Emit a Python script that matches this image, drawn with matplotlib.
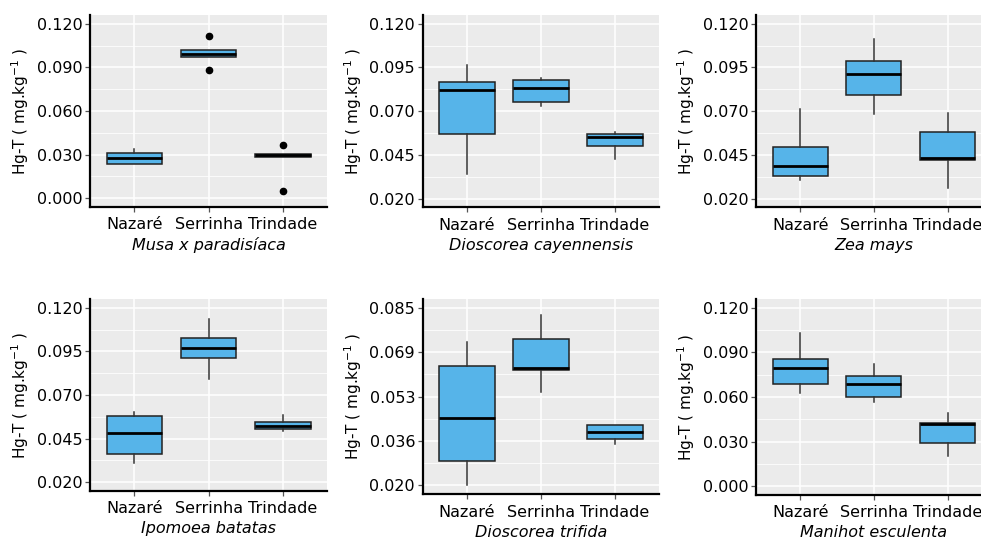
import matplotlib
matplotlib.use("Agg")
import matplotlib.pyplot as plt

# ---------------- data ----------------
sites = ["Nazaré", "Serrinha", "Trindade"]
species = ["Musa x paradisíaca", "Dioscorea cayennensis", "Zea mays",
           "Ipomoea batatas", "Dioscorea trifida", "Manihot esculenta"]

# per panel, per site: first quartile, median, third quartile, whisker low, whisker high
q1 = [[0.0239, 0.0970, 0.0285],
      [0.0571, 0.0753, 0.0502],
      [0.0331, 0.0793, 0.0418],
      [0.0364, 0.0913, 0.0503],
      [0.0288, 0.0621, 0.0371],
      [0.0689, 0.0597, 0.0287]]
med = [[0.0274, 0.0991, 0.0297],
       [0.0820, 0.0835, 0.0550],
       [0.0384, 0.0913, 0.0432],
       [0.0485, 0.0967, 0.0523],
       [0.0447, 0.0631, 0.0394],
       [0.0798, 0.0689, 0.0418]]
q3 = [[0.0312, 0.1016, 0.0306],
      [0.0865, 0.0877, 0.0569],
      [0.0497, 0.0987, 0.0582],
      [0.0579, 0.1024, 0.0545],
      [0.0639, 0.0736, 0.0420],
      [0.0853, 0.0740, 0.0424]]
wlo = [[0.0239, 0.0970, 0.0285],
       [0.0339, 0.0732, 0.0424],
       [0.0308, 0.0683, 0.0261],
       [0.0311, 0.0792, 0.0493],
       [0.0203, 0.0542, 0.0350],
       [0.0630, 0.0568, 0.0206]]
whi = [[0.0338, 0.1016, 0.0306],
       [0.0962, 0.0890, 0.0580],
       [0.0713, 0.1113, 0.0687],
       [0.0602, 0.1134, 0.0584],
       [0.0725, 0.0824, 0.0420],
       [0.1034, 0.0822, 0.0495]]
outliers = [[[], [0.1119, 0.0883], [0.0366, 0.0050]],
            [[], [], []],
            [[], [], []],
            [[], [], []],
            [[], [], []],
            [[], [], []]]

# y-scale limits and tick labels per panel
ylims = [(0.000, 0.120), (0.020, 0.120), (0.020, 0.120),
         (0.020, 0.120), (0.020, 0.085), (0.000, 0.120)]
yticklabels = [["0.000", "0.030", "0.060", "0.090", "0.120"],
               ["0.020", "0.045", "0.070", "0.095", "0.120"],
               ["0.020", "0.045", "0.070", "0.095", "0.120"],
               ["0.020", "0.045", "0.070", "0.095", "0.120"],
               ["0.020", "0.036", "0.053", "0.069", "0.085"],
               ["0.000", "0.030", "0.060", "0.090", "0.120"]]

# ---------------- layout (pixels: left, right, top, bottom) ----------------
W, H = 981, 540
boxes_px = [(90.0, 327.2, 15, 207),
            (422.7, 659.2, 15, 207.3),
            (756.0, 991.7, 15, 207.3),
            (90.0, 327.2, 299, 491),
            (422.7, 659.2, 299, 494.3),
            (756.0, 991.7, 299, 495)]

plt.rcParams['font.family'] = ['DejaVu Sans']
fig = plt.figure(figsize=(W / 100, H / 100), dpi=100)
fig.patch.set_facecolor("white")

for i in range(6):
    l, r, t, b = boxes_px[i]
    ax = fig.add_axes([l / W, 1 - b / H, (r - l) / W, (b - t) / H])
    ax.set_facecolor("#EBEBEB")
    lo, hi = ylims[i]
    span = hi - lo
    majors = [lo + k * span / 4 for k in range(5)]
    minors = [lo + (k + 0.5) * span / 4 for k in range(4)]

    stats = []
    for j in range(3):
        stats.append(dict(q1=q1[i][j], med=med[i][j], q3=q3[i][j],
                          whislo=wlo[i][j], whishi=whi[i][j],
                          fliers=outliers[i][j]))
    ax.bxp(stats, positions=[1, 2, 3], widths=0.75, patch_artist=True,
           showcaps=False,
           boxprops=dict(facecolor="#56B4E9", edgecolor="#222222", linewidth=1.1),
           medianprops=dict(color="black", linewidth=2.0),
           whiskerprops=dict(color="#333333", linewidth=1.1),
           flierprops=dict(marker="o", markerfacecolor="black", markeredgecolor="black",
                           markersize=4.5, linestyle="none"),
           zorder=3)

    ax.set_ylim(lo - 0.05 * span, hi + 0.05 * span)
    ax.set_xlim(0.4, 3.6)
    ax.set_yticks(majors)
    ax.set_yticklabels(yticklabels[i])
    ax.set_yticks(minors, minor=True)
    ax.set_xticks([1, 2, 3])
    ax.set_xticklabels(sites)
    ax.grid(True, which="major", color="white", linewidth=1.1, zorder=0)
    ax.grid(True, which="minor", axis="y", color="white", linewidth=0.55, zorder=0)
    ax.set_axisbelow(True)
    ax.tick_params(axis="both", which="major", length=3.5, width=0.9, color="#555555",
                   labelcolor="black")
    ax.tick_params(axis="x", which="major", pad=4, labelsize=11.5)
    ax.tick_params(axis="y", which="major", pad=2, labelsize=11.5)
    ax.tick_params(axis="both", which="minor", length=0)
    for s in ["top", "right"]:
        ax.spines[s].set_visible(False)
    for s in ["left", "bottom"]:
        ax.spines[s].set_linewidth(1.6)
        ax.spines[s].set_color("black")
        ax.spines[s].set_zorder(5)

    ax.set_xlabel(species[i], fontsize=11.5, style="italic", labelpad=3.5)
    ax.set_ylabel("Hg-T ( mg.kg$^{-1}$ )", fontsize=11)
    ax.yaxis.set_label_coords(-0.25, 0.5)

fig.savefig("out.png", dpi=100, facecolor="white")
